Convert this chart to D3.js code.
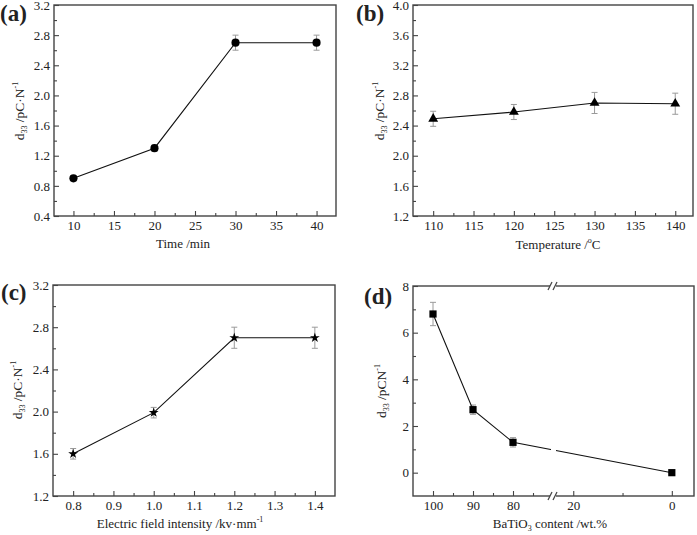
<!DOCTYPE html>
<html><head><meta charset="utf-8">
<script src="https://cdn.jsdelivr.net/npm/d3@7"></script>
<style>
body{margin:0;background:#fff}
svg{display:block}
text{font-family:"Liberation Serif","Times New Roman",serif;fill:#222}
</style>
</head><body>
<svg id="c" width="697" height="535"></svg>
<script>
// ---- data ----
const timeX = [10, 20, 30, 40];
const timeY = [0.9, 1.3, 2.7, 2.7];
const timeErr = [0.03, 0.04, 0.1, 0.1];

const tempX = [110, 120, 130, 140];
const tempY = [2.49, 2.58, 2.70, 2.69];
const tempErr = [0.1, 0.1, 0.14, 0.14];

const fieldX = [0.8, 1.0, 1.2, 1.4];
const fieldY = [1.6, 1.99, 2.7, 2.7];
const fieldErr = [0.05, 0.05, 0.1, 0.1];

const batX = [100, 90, 80, 0];
const batY = [6.8, 2.7, 1.3, 0];
const batErr = [0.5, 0.2, 0.2, 0.05];

// tick labels
const timeTicks = [10, 15, 20, 25, 30, 35, 40];
const timeMinor = [12.5, 17.5, 22.5, 27.5, 32.5, 37.5];
const tempTicks = [110, 115, 120, 125, 130, 135, 140];
const tempMinor = [112.5, 117.5, 122.5, 127.5, 132.5, 137.5];
const fieldTicks = [0.8, 0.9, 1.0, 1.1, 1.2, 1.3, 1.4];
const fieldMinor = [0.85, 0.95, 1.05, 1.15, 1.25, 1.35];
const batTicksHigh = [100, 90, 80];
const batMinorHigh = [95, 85, 75];
const batTicksLow = [20, 0];
const batMinorLow = [10];
const yTicksA = [0.4, 0.8, 1.2, 1.6, 2.0, 2.4, 2.8, 3.2];
const yTicksB = [1.2, 1.6, 2.0, 2.4, 2.8, 3.2, 3.6, 4.0];
const yTicksC = [1.2, 1.6, 2.0, 2.4, 2.8, 3.2];
const yTicksD = [0, 2, 4, 6, 8];
const yMinorD = [1, 3, 5, 7];

const svg = d3.select("#c");
const FRAME = "#444";
const ERR = "#9a9a9a";
const FONT = '"Liberation Serif","Times New Roman",serif';

function minorsOf(t){ const m=[]; for(let i=0;i<t.length-1;i++) m.push(+((t[i]+t[i+1])/2).toFixed(3)); return m; }

function styleAxis(g){
  g.attr("font-family", FONT);
  g.select(".domain").remove();
  g.selectAll("line").attr("stroke", FRAME).attr("stroke-width", 1.1);
  g.selectAll("text").attr("font-family", FONT).attr("font-size", 13).attr("fill", "#222");
}
function yAxis(L, y, ticks, minor, fmt){
  svg.append("g").attr("transform", `translate(${L},0)`)
    .call(d3.axisLeft(y).tickValues(ticks).tickSize(-5).tickPadding(4).tickFormat(fmt)).call(styleAxis);
  svg.append("g").attr("transform", `translate(${L},0)`)
    .call(d3.axisLeft(y).tickValues(minor).tickSize(-3).tickFormat("")).call(styleAxis);
}
function xAxis(B, x, ticks, minor, fmt){
  svg.append("g").attr("transform", `translate(0,${B})`)
    .call(d3.axisBottom(x).tickValues(ticks).tickSize(-5).tickPadding(5).tickFormat(fmt)).call(styleAxis);
  svg.append("g").attr("transform", `translate(0,${B})`)
    .call(d3.axisBottom(x).tickValues(minor).tickSize(-3).tickFormat("")).call(styleAxis);
}
function frame(L,R,T,B){
  svg.append("rect").attr("x",L).attr("y",T).attr("width",R-L).attr("height",B-T)
    .attr("fill","none").attr("stroke",FRAME).attr("stroke-width",1.4);
}
function series(xs, ys, es, xf, y, sym, size){
  const pts = xs.map((v,i)=>({x:xf(v), y:y(ys[i]), hi:y(ys[i]+es[i]), lo:y(ys[i]-es[i])}));
  const g = svg.append("g");
  pts.forEach(p=>{
    g.append("line").attr("x1",p.x).attr("x2",p.x).attr("y1",p.hi).attr("y2",p.lo).attr("stroke",ERR).attr("stroke-width",1);
    [p.hi,p.lo].forEach(yy=>g.append("line").attr("x1",p.x-3).attr("x2",p.x+3).attr("y1",yy).attr("y2",yy).attr("stroke",ERR).attr("stroke-width",1));
  });
  g.append("path").attr("d", d3.line().x(d=>d.x).y(d=>d.y)(pts)).attr("fill","none").attr("stroke","#111").attr("stroke-width",1.1);
  return {g, pts, draw: ()=>{
    pts.forEach(p=>g.append("path").attr("d", d3.symbol().type(sym).size(size)()).attr("transform",`translate(${p.x},${p.y})`).attr("fill","#000"));
  }};
}
function panelLabel(txt, x, y){
  svg.append("text").attr("x",x).attr("y",y).attr("font-size",23).attr("font-weight","bold").attr("fill","#000").text(txt);
}
function yTitle(x, yc, main, tail){
  const t = svg.append("text").attr("transform",`translate(${x},${yc}) rotate(-90)`).attr("text-anchor","middle").attr("font-size",13.5);
  t.append("tspan").text("d");
  t.append("tspan").attr("font-size",8).attr("dy",3).text("33");
  t.append("tspan").attr("dy",-3).text(" " + main);
  t.append("tspan").attr("font-size",8).attr("dy",-6).text(tail);
}
function xTitle(x, y, parts){
  const t = svg.append("text").attr("x",x).attr("y",y).attr("text-anchor","middle").attr("font-size",13);
  parts.forEach(p=>{ const s=t.append("tspan").text(p.t); if(p.fs) s.attr("font-size",p.fs); if(p.dy) s.attr("dy",p.dy); });
}
const f1 = d3.format(".1f");

// ---- panel (a) ----
{
  const L=54,R=336,T=5,B=216;
  const x=d3.scaleLinear().domain([7.6,42.4]).range([L,R]);
  const y=d3.scaleLinear().domain([0.4,3.2]).range([B,T]);
  frame(L,R,T,B);
  yAxis(L,y,yTicksA,minorsOf(yTicksA),f1);
  xAxis(B,x,timeTicks,timeMinor,d3.format("d"));
  series(timeX,timeY,timeErr,x,y,d3.symbolCircle,52).draw();
  panelLabel("(a)",0,21);
  yTitle(24,111,"/pC·N","-1");
  xTitle(183,248,[{t:"Time /min"}]);
}
// ---- panel (b) ----
{
  const L=413,R=693,T=5,B=216;
  const x=d3.scaleLinear().domain([107.5,142.2]).range([L,R]);
  const y=d3.scaleLinear().domain([1.2,4.0]).range([B,T]);
  frame(L,R,T,B);
  yAxis(L,y,yTicksB,minorsOf(yTicksB),f1);
  xAxis(B,x,tempTicks,tempMinor,d3.format("d"));
  series(tempX,tempY,tempErr,x,y,d3.symbolTriangle,42).draw();
  panelLabel("(b)",356,21);
  yTitle(384,111,"/pC·N","-1");
  xTitle(558,249,[{t:"Temperature /"},{t:"o",fs:8,dy:-6},{t:"C",dy:6}]);
}
// ---- panel (c) ----
{
  const L=53,R=335,T=285,B=496;
  const x=d3.scaleLinear().domain([0.75,1.45]).range([L,R]);
  const y=d3.scaleLinear().domain([1.2,3.2]).range([B,T]);
  frame(L,R,T,B);
  yAxis(L,y,yTicksC,minorsOf(yTicksC),f1);
  xAxis(B,x,fieldTicks,fieldMinor,f1);
  series(fieldX,fieldY,fieldErr,x,y,d3.symbolStar,30).draw();
  panelLabel("(c)",1,300);
  yTitle(22,390,"/pC·N","-1");
  xTitle(180,528,[{t:"Electric field intensity /kv·mm"},{t:"-1",fs:8,dy:-6}]);
}
// ---- panel (d) ----
{
  const L=413,R=694,T=286,B=496, BR=553;
  const xh=d3.scaleLinear().domain([105,70.5]).range([L,BR-2]);
  const xl=d3.scaleLinear().domain([23.5,-4.5]).range([BR+3,R]);
  const xf=v=> v>=50 ? xh(v) : xl(v);
  const y=d3.scaleLinear().domain([-1,8]).range([B,T]);
  frame(L,R,T,B);
  yAxis(L,y,yTicksD,yMinorD,d3.format("d"));
  xAxis(B,xh,batTicksHigh,batMinorHigh,d3.format("d"));
  xAxis(B,xl,batTicksLow,batMinorLow,d3.format("d"));
  const s=series(batX,batY,batErr,xf,y,d3.symbolSquare,52);
  s.g.append("rect").attr("x",BR-2).attr("y",T+2).attr("width",5).attr("height",B-T-4).attr("fill","#fff");
  s.draw();
  [T,B].forEach(yy=>{
    svg.append("rect").attr("x",BR-3).attr("y",yy-2).attr("width",6).attr("height",4).attr("fill","#fff");
    [BR-3,BR+2].forEach(xx=>svg.append("line").attr("x1",xx-2).attr("y1",yy+4).attr("x2",xx+2).attr("y2",yy-4)
      .attr("stroke",FRAME).attr("stroke-width",1.2));
  });
  panelLabel("(d)",364,304);
  yTitle(386,391,"/pCN","-1");
  xTitle(550,528,[{t:"BaTiO"},{t:"3",fs:8,dy:3},{t:" content /wt.%",dy:-3}]);
}
</script>
</body></html>
